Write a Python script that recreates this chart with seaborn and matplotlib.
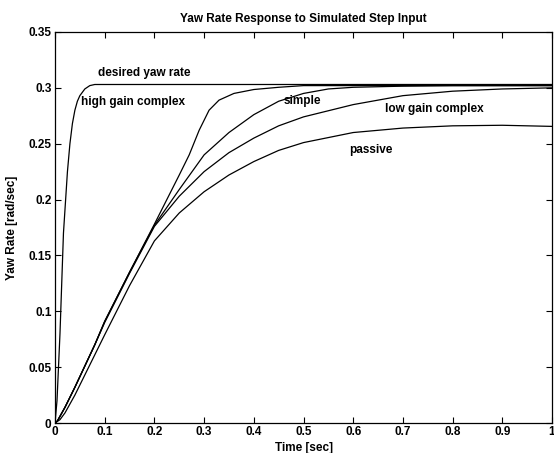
import matplotlib
matplotlib.use("Agg")
import matplotlib.pyplot as plt
import seaborn as sns
import pandas as pd

# ---- data ----
t_desired = [0, 0.004, 0.01, 0.017, 0.025, 0.03, 0.035, 0.04, 0.045, 0.05, 0.06, 0.07, 0.08, 0.1, 1.0]
v_desired = [0, 0.02, 0.08, 0.17, 0.225, 0.25, 0.268, 0.28, 0.288, 0.293, 0.299, 0.302, 0.303, 0.303, 0.303]

t_high = [0, 0.005, 0.01, 0.02, 0.04, 0.06, 0.08, 0.1, 0.15, 0.2, 0.25, 0.27, 0.29, 0.31, 0.33, 0.36, 0.4, 0.45, 0.5, 0.6, 0.8, 1.0]
v_high = [0, 0.002, 0.006, 0.014, 0.032, 0.051, 0.07, 0.091, 0.135, 0.178, 0.222, 0.24, 0.262, 0.28, 0.289, 0.295, 0.2985, 0.3005, 0.302, 0.302, 0.302, 0.302]

t_simple = [0, 0.005, 0.01, 0.02, 0.04, 0.06, 0.08, 0.1, 0.15, 0.2, 0.25, 0.3, 0.35, 0.4, 0.45, 0.5, 0.55, 0.6, 0.7, 0.8, 1.0]
v_simple = [0, 0.002, 0.006, 0.014, 0.032, 0.051, 0.07, 0.091, 0.135, 0.177, 0.209, 0.24, 0.26, 0.276, 0.288, 0.295, 0.299, 0.3005, 0.3015, 0.302, 0.302]

t_low = [0, 0.005, 0.01, 0.02, 0.04, 0.06, 0.08, 0.1, 0.15, 0.2, 0.25, 0.3, 0.35, 0.4, 0.45, 0.5, 0.6, 0.7, 0.8, 0.9, 1.0]
v_low = [0, 0.002, 0.006, 0.014, 0.032, 0.051, 0.07, 0.09, 0.134, 0.176, 0.203, 0.225, 0.242, 0.255, 0.266, 0.274, 0.285, 0.293, 0.297, 0.299, 0.300]

t_passive = [0, 0.01, 0.02, 0.04, 0.06, 0.08, 0.1, 0.15, 0.2, 0.25, 0.3, 0.35, 0.4, 0.45, 0.5, 0.6, 0.7, 0.8, 0.9, 1.0]
v_passive = [0, 0.003, 0.009, 0.025, 0.043, 0.061, 0.079, 0.123, 0.163, 0.188, 0.207, 0.222, 0.234, 0.244, 0.251, 0.26, 0.264, 0.266, 0.2665, 0.2655]

series_names = ["desired yaw rate", "high gain complex", "simple", "low gain complex", "passive"]

label_t = [0.087, 0.052, 0.459, 0.663, 0.592]
label_v = [0.313, 0.287, 0.288, 0.281, 0.244]

x_ticks = [0, 0.1, 0.2, 0.3, 0.4, 0.5, 0.6, 0.7, 0.8, 0.9, 1.0]
x_tick_labels = ["0", "0.1", "0.2", "0.3", "0.4", "0.5", "0.6", "0.7", "0.8", "0.9", "1"]
y_ticks = [0, 0.05, 0.1, 0.15, 0.2, 0.25, 0.3, 0.35]
y_tick_labels = ["0", "0.05", "0.1", "0.15", "0.2", "0.25", "0.3", "0.35"]

title = "Yaw Rate Response to Simulated Step Input"
x_label = "Time [sec]"
y_label = "Yaw Rate [rad/sec]"

# ---- build long-form table ----
frames = []
for name, tt, vv in zip(series_names,
                        [t_desired, t_high, t_simple, t_low, t_passive],
                        [v_desired, v_high, v_simple, v_low, v_passive]):
    frames.append(pd.DataFrame({"time": tt, "rate": vv, "series": name}))
df = pd.concat(frames, ignore_index=True)

# ---- style ----
sns.set_style("ticks")
plt.rcParams['font.family'] = ['Liberation Sans', 'DejaVu Sans']
plt.rcParams.update({
    'font.weight': 'bold',
    'xtick.direction': 'in', 'ytick.direction': 'in',
    'xtick.top': True, 'ytick.right': True,
    'xtick.major.size': 4, 'ytick.major.size': 4,
    'xtick.major.width': 0.8, 'ytick.major.width': 0.8,
    'axes.linewidth': 0.9, 'axes.edgecolor': 'black',
    'xtick.color': 'black', 'ytick.color': 'black',
    'text.color': 'black', 'axes.labelcolor': 'black',
})

FS = 8.5
fig = plt.figure(figsize=(5.54, 4.53), dpi=100)
ax = fig.add_axes([0.0993, 0.0662, 0.8971, 0.8632])

sns.lineplot(data=df, x="time", y="rate", hue="series", units="series",
             estimator=None, sort=False, palette=["black"] * len(series_names),
             linewidth=0.9, legend=False, ax=ax)

for name, lt, lv in zip(series_names, label_t, label_v):
    ax.text(lt, lv, name, ha="left", va="center", fontsize=FS, fontweight="bold")

ax.set_xlim(0, 1)
ax.set_ylim(0, 0.35)
ax.set_xticks(x_ticks)
ax.set_xticklabels(x_tick_labels, fontweight="bold")
ax.set_yticks(y_ticks)
ax.set_yticklabels(y_tick_labels, fontweight="bold")
ax.tick_params(axis='both', labelsize=FS, pad=2.5)
for s in ax.spines.values():
    s.set_visible(True)

ax.set_title(title, fontsize=FS, fontweight="bold", pad=7)
ax.set_xlabel(x_label, fontsize=FS, fontweight="bold")
ax.set_ylabel(y_label, fontsize=FS, fontweight="bold")
ax.xaxis.set_label_coords(0.5, -0.049)
ax.yaxis.set_label_coords(-0.075, 0.5)

fig.savefig("out.png", dpi=100)
